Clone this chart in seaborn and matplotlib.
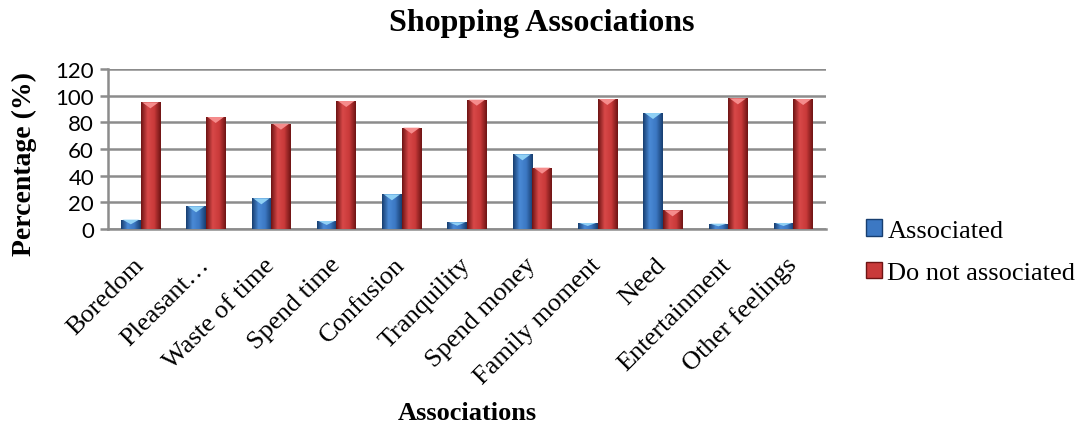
import numpy as np
import pandas as pd
import matplotlib
matplotlib.use("Agg")
import matplotlib.pyplot as plt
import seaborn as sns
from matplotlib.colors import LinearSegmentedColormap
from matplotlib.patches import Polygon, Patch

categories = ["Boredom", "Pleasant\u2026", "Waste of time", "Spend time", "Confusion",
              "Tranquility", "Spend money", "Family moment", "Need",
              "Entertainment", "Other feelings"]
associated = [7, 17, 23, 6, 26, 5, 56, 4.5, 87, 4, 4.5]
not_associated = [95, 84, 79, 96, 76, 97, 46, 97.5, 14, 98, 97.5]
series_names = ["Associated", "Do not associated"]
y_ticks = [0, 20, 40, 60, 80, 100, 120]

df = pd.DataFrame({
    "Associations": categories * 2,
    "Percentage": associated + not_associated,
    "Series": [series_names[0]] * len(categories) + [series_names[1]] * len(categories),
})

sns.set_theme(style="white")
plt.rcParams["font.family"] = ["Liberation Serif", "DejaVu Serif"]
plt.rcParams["text.color"] = "black"
plt.rcParams["axes.labelcolor"] = "black"

fig = plt.figure(figsize=(10.83, 4.27), dpi=100)
ax = fig.add_axes([0.0997, 0.4614, 0.6630, 0.3746])

palette = {"Associated": "#3C78C3", "Do not associated": "#C93A3A"}
sns.barplot(data=df, x="Associations", y="Percentage", hue="Series",
            palette=palette, width=0.6, ax=ax, legend=False, saturation=1,
            order=categories, hue_order=series_names, zorder=3)

# shaded look for the bars: horizontal gradient + bright cap triangle
styles = {
    "Associated": (["#173E70", "#4A8AD6", "#3C78C3", "#173E70"], "#8FD0F5"),
    "Do not associated": (["#6E1414", "#D84848", "#C93A3A", "#6E1414"], "#F58C8C"),
}
n = len(categories)
for i, patch in enumerate(ax.patches[:2 * n]):
    name = series_names[i // n]
    cols, cap = styles[name]
    cmap = LinearSegmentedColormap.from_list(name, cols)
    x0, y0 = patch.get_x(), patch.get_y()
    w, h = patch.get_width(), patch.get_height()
    patch.set_facecolor("none")
    patch.set_edgecolor("none")
    grad = np.linspace(0, 1, 64).reshape(1, -1)
    im = ax.imshow(grad, cmap=cmap, extent=[x0, x0 + w, y0, y0 + h],
                   aspect="auto", zorder=3, origin="lower")
    im.set_clip_path(patch)
    th = min(4.5, h * 0.5)
    tri = Polygon([[x0 + w * 0.08, y0 + h], [x0 + w * 0.92, y0 + h],
                   [x0 + w * 0.5, y0 + h - th]], closed=True,
                  facecolor=cap, edgecolor="none", zorder=4)
    ax.add_patch(tri)

ax.set_xlim(-0.5, n - 0.5)
ax.set_ylim(0, 120)
ax.set_yticks(y_ticks)
ax.set_yticklabels([str(t) for t in y_ticks], family=["Lato", "DejaVu Sans"], fontsize=16)
ax.yaxis.grid(True, color="#8C8C8C", linewidth=1.8, zorder=0)
ax.set_axisbelow(True)

for s in ["top", "right"]:
    ax.spines[s].set_visible(False)
ax.spines["left"].set_color("#8C8C8C")
ax.spines["left"].set_linewidth(1.8)
ax.spines["bottom"].set_color("#8C8C8C")
ax.spines["bottom"].set_linewidth(1.8)
ax.tick_params(axis="y", which="both", left=True, length=6, width=1.8,
               color="#8C8C8C", pad=4, labelcolor="black")
ax.tick_params(axis="x", bottom=False, length=0, pad=23)

ax.set_xticks(range(n))
ax.set_xticklabels(categories, rotation=45, ha="right", va="center",
                   rotation_mode="anchor", fontsize=19, color="black")

ax.set_xlabel("Associations", fontsize=19, fontweight="bold")
ax.xaxis.set_label_coords(0.5, -1.075)
ax.set_ylabel("Percentage (%)", fontsize=20, fontweight="bold")
ax.yaxis.set_label_coords(-0.0985, 0.41)
fig.suptitle("Shopping Associations", fontsize=23, fontweight="bold", y=0.98)

handles = [Patch(facecolor=palette[s], edgecolor=styles[s][0][0]) for s in series_names]
fig.legend(handles, series_names, loc="center left", bbox_to_anchor=(0.778, 0.408),
           frameon=False, fontsize=19, handlelength=0.6, handleheight=0.6,
           handletextpad=0.2, labelspacing=0.75)

fig.savefig("out.png", dpi=100)
